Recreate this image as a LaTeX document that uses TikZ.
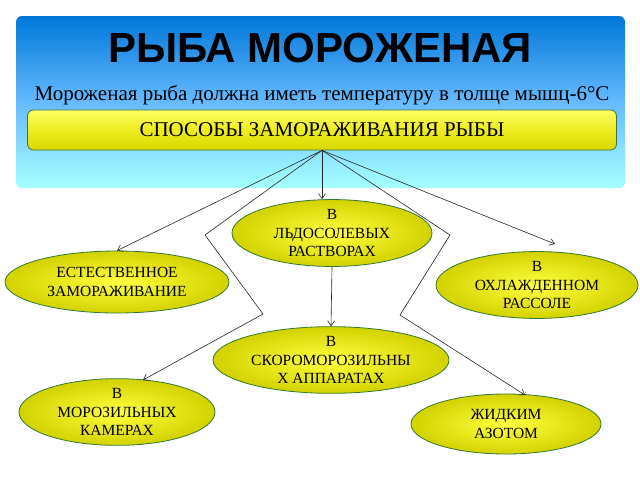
\documentclass[tikz,border=0pt]{standalone}
\usepackage{fontspec}
\setmainfont{Liberation Serif}
\newfontfamily\titlefont{Liberation Sans}
\usetikzlibrary{arrows.meta,shapes.geometric}

\begin{document}
\begin{tikzpicture}[x=1pt,y=-1pt,>={Straight Barb[length=5pt,width=7pt]},
	]

	\tikzset{way/.style={
				ellipse,draw=black!55!green!60!gray,line width=0.8pt,
				inner color=yellow!75!white,outer color=yellow!65!olive,
				inner sep=0pt,align=center,font=\fontsize{15.5}{18.5}\selectfont}
	}
	\tikzset{link/.style={draw=black!85,line width=0.6pt}}

	\useasboundingbox (0,0) rectangle (640,480);

	% header
	\shade[rounded corners=6pt,top color=blue!45!cyan!85!black,bottom color=cyan!35!white,middle color=cyan!55!blue!60]
		(16,16) rectangle (625,188);
	\node (title) at (320,48) {\titlefont\bfseries\fontsize{42}{48}\selectfont РЫБА МОРОЖЕНАЯ};
	\node (sub) at (322,95) {\fontsize{21}{24}\selectfont Мороженая рыба должна иметь температуру в толще мышц-6°C};

	\node[draw=black!60!green!50!gray,line width=0.8pt,rounded corners=6pt,
		top color=yellow!60!white,bottom color=yellow!70!olive,
		minimum width=589pt,minimum height=40pt,font=\fontsize{21}{24}\selectfont]
		(ways) at (322,130) {СПОСОБЫ ЗАМОРАЖИВАНИЯ РЫБЫ};

	% methods
	\node[way,minimum width=200pt,minimum height=62pt] (ice) at (332,233) {В\\ЛЬДОСОЛЕВЫХ\\РАСТВОРАХ};
	\node[way,minimum width=224pt,minimum height=62pt] (nat) at (117,282) {ЕСТЕСТВЕННОЕ\\ЗАМОРАЖИВАНИЕ};
	\node[way,minimum width=202pt,minimum height=66pt] (brine) at (537,285) {В\\ОХЛАЖДЕННОМ\\РАССОЛЕ};
	\node[way,minimum width=236pt,minimum height=60pt] (fast) at (331,360) {В\\СКОРОМОРОЗИЛЬНЫ\\Х АППАРАТАХ};
	\node[way,minimum width=196pt,minimum height=62pt] (cham) at (117,412) {В\\МОРОЗИЛЬНЫХ\\КАМЕРАХ};
	\node[way,minimum width=190pt,minimum height=60pt] (nitro) at (506,424) {ЖИДКИМ\\АЗОТОМ};

	\coordinate (bl1) at (205,235);
	\coordinate (bl2) at (263,314);
	\coordinate (br1) at (450,235);
	\coordinate (br2) at (400,315);

	\draw[link,->] (ways.south) -- (nat.north);
	\draw[link,->] (ways.south) -- (ways.south |- ice.north);
	\draw[link,->] (ways.south) -- (555,244);
	\draw[link,->] (ways.south) -- (bl1) -- (bl2) -- (143,380);
	\draw[link,->] (ways.south) -- (br1) -- (br2) -- (525,395);
	\draw[link,->] (ice.south) -- (fast.north);

\end{tikzpicture}
\end{document}
